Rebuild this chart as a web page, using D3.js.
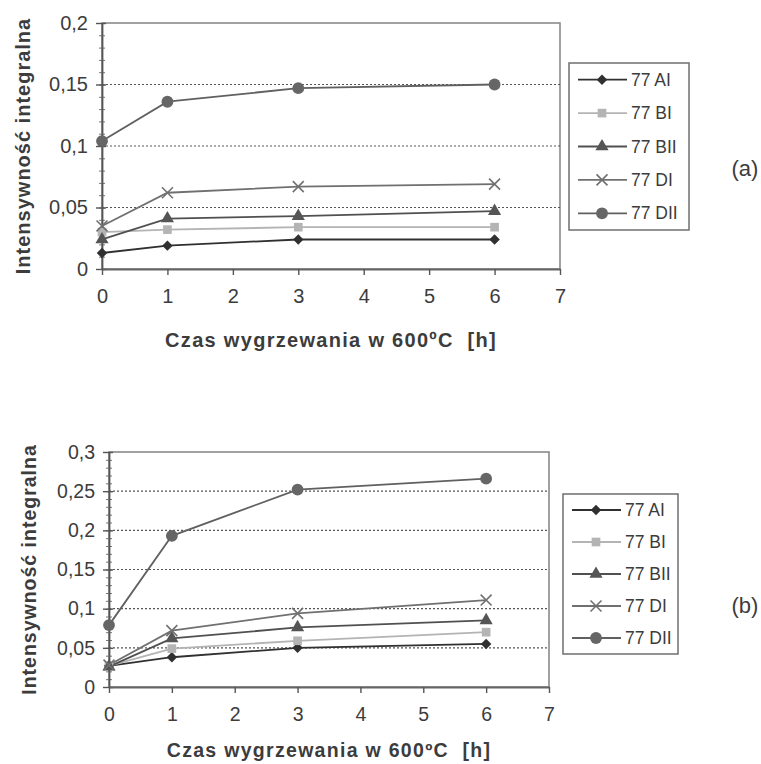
<!DOCTYPE html>
<html>
<head>
<meta charset="utf-8">
<script src="https://cdn.jsdelivr.net/npm/d3@7"></script>
<style>
  body { margin: 0; background: #fff; }
  svg { display: block; }
  text { font-family: "Liberation Sans", Arial, sans-serif; fill: #3c3c3c; }
</style>
</head>
<body>
<svg id="chart" width="761" height="764"></svg>
<script>
// czas wygrzewania [h]
const hours = [0, 1, 3, 6]
const seriesNames = ["77 AI", "77 BI", "77 BII", "77 DI", "77 DII"]
const xTicks = [0, 1, 2, 3, 4, 5, 6, 7]

// panel (a)
const aAI = [0.013, 0.019, 0.024, 0.024]
const aBI = [0.030, 0.032, 0.034, 0.034]
const aBII = [0.024, 0.041, 0.043, 0.047]
const aDI = [0.035, 0.062, 0.067, 0.069]
const aDII = [0.104, 0.136, 0.147, 0.150]
const aYTicks = [0, 0.05, 0.1, 0.15, 0.2]

// panel (b)
const bAI = [0.027, 0.038, 0.050, 0.055]
const bBI = [0.027, 0.049, 0.059, 0.070]
const bBII = [0.026, 0.062, 0.076, 0.085]
const bDI = [0.028, 0.072, 0.094, 0.111]
const bDII = [0.079, 0.193, 0.252, 0.266]
const bYTicks = [0, 0.05, 0.1, 0.15, 0.2, 0.25, 0.3]

const styles = [
  { line: "#303030", fill: "#303030", shape: d3.symbolDiamond2, size: 70 },
  { line: "#b4b4b4", fill: "#b4b4b4", shape: d3.symbolSquare, size: 75 },
  { line: "#505050", fill: "#555", shape: d3.symbolTriangle, size: 75 },
  { line: "#707070", fill: "none", shape: d3.symbolTimes, size: 80 },
  { line: "#606060", fill: "#666", shape: d3.symbolCircle, size: 110 },
]

const svg = d3.select("#chart")
const fmt = d => d === 0 ? "0" : String(d).replace(".", ",")

const marker = (g, i, x, y) => {
  const s = styles[i]
  g.append("path")
    .attr("d", d3.symbol().type(s.shape).size(s.size)())
    .attr("transform", `translate(${x},${y})`)
    .attr("fill", s.fill)
    .attr("stroke", s.shape === d3.symbolTimes ? s.line : "none")
    .attr("stroke-width", 1.6)
}

const drawPanel = (p) => {
  const x = d3.scaleLinear().domain([0, 7]).range([p.left, p.right])
  const y = d3.scaleLinear().domain([0, p.yMax]).range([p.bottom, p.top])
  const g = svg.append("g")

  // ramka
  g.append("rect")
    .attr("x", p.left).attr("y", p.top)
    .attr("width", p.right - p.left).attr("height", p.bottom - p.top)
    .attr("fill", "#fff").attr("stroke", "#8a8a8a").attr("stroke-width", 1.6)

  // siatka
  g.selectAll(".grid")
    .data(p.yTicks.filter(d => d > 0 && d < p.yMax))
    .join("line")
    .attr("x1", p.left).attr("x2", p.right)
    .attr("y1", d => y(d)).attr("y2", d => y(d))
    .attr("stroke", "#555").attr("stroke-width", 1.2)
    .attr("stroke-dasharray", "2,2")

  // os Y - male kreski
  const minor = d3.range(0, p.yMax + 0.0001, 0.01)
  g.append("g")
    .attr("transform", `translate(${p.left + 3},0)`)
    .call(d3.axisLeft(y).tickValues(minor).tickSize(6).tickFormat(""))
    .call(a => a.select(".domain").remove())
    .call(a => a.selectAll("line").attr("stroke", "#777"))

  const yAxis = g.append("g")
    .attr("transform", `translate(${p.left},0)`)
    .call(d3.axisLeft(y).tickValues(p.yTicks).tickSize(6).tickSizeOuter(0).tickPadding(8).tickFormat(fmt))
  yAxis.select(".domain").attr("stroke", "#555").attr("stroke-width", 1.8)
  yAxis.selectAll(".tick line").attr("x2", 4).attr("x1", -6).attr("stroke", "#555").attr("stroke-width", 1.4)
  yAxis.selectAll(".tick text")
    .attr("font-size", p.fs).attr("font-family", "Liberation Sans, Arial").attr("fill", "#3c3c3c")

  // os X
  const xAxis = g.append("g")
    .attr("transform", `translate(0,${p.bottom})`)
    .call(d3.axisBottom(x).tickValues(xTicks).tickSize(6).tickSizeOuter(0).tickPadding(p.xPad).tickFormat(d3.format("d")))
  xAxis.select(".domain").attr("stroke", "#666").attr("stroke-width", 1.8)
  xAxis.selectAll(".tick line").attr("stroke", "#555").attr("stroke-width", 1.4)
  xAxis.selectAll(".tick text")
    .attr("font-size", p.fs).attr("font-family", "Liberation Sans, Arial").attr("fill", "#3c3c3c")

  // serie
  const line = d3.line().x((d, i) => x(hours[i])).y(d => y(d))
  p.series.forEach((vals, i) => {
    g.append("path")
      .attr("d", line(vals))
      .attr("fill", "none")
      .attr("stroke", styles[i].line)
      .attr("stroke-width", 1.8)
  })
  p.series.forEach((vals, i) => {
    vals.forEach((v, j) => marker(g, i, x(hours[j]), y(v)))
  })

  // opisy osi
  g.append("text")
    .attr("x", (p.left + p.right) / 2).attr("y", p.titleY)
    .attr("text-anchor", "middle")
    .attr("font-size", p.fs).attr("font-weight", "bold")
    .attr("letter-spacing", 1.3)
    .style("white-space", "pre")
    .text("Czas wygrzewania w 600ºC  [h]")

  g.append("text")
    .attr("transform", `translate(${p.yLabelX},${(p.top + p.bottom) / 2}) rotate(-90)`)
    .attr("text-anchor", "middle")
    .attr("font-size", p.fs).attr("font-weight", "bold")
    .attr("letter-spacing", 1)
    .text("Intensywność integralna")

  // legenda
  const lg = g.append("g")
  lg.append("rect")
    .attr("x", p.legX).attr("y", p.legTop)
    .attr("width", p.legW).attr("height", p.legH)
    .attr("fill", "#fff").attr("stroke", "#777").attr("stroke-width", 1.6)
  const step = p.legH / seriesNames.length
  seriesNames.forEach((name, i) => {
    const ly = p.legTop + step * (i + 0.5)
    lg.append("line")
      .attr("x1", p.legX + 9).attr("x2", p.legX + 58)
      .attr("y1", ly).attr("y2", ly)
      .attr("stroke", styles[i].line).attr("stroke-width", 1.8)
    marker(lg, i, p.legX + 33, ly)
    lg.append("text")
      .attr("x", p.legX + 62).attr("y", ly + 6)
      .attr("font-size", p.legFs)
      .text(name)
  })

  svg.append("text")
    .attr("x", 745).attr("y", p.tagY)
    .attr("text-anchor", "middle")
    .attr("font-family", "Liberation Serif, Times New Roman, serif")
    .attr("font-size", 22)
    .text(p.tag)
}

drawPanel({
  left: 102, right: 560, top: 23, bottom: 269, yMax: 0.2, yTicks: aYTicks,
  series: [aAI, aBI, aBII, aDI, aDII], fs: 20, xPad: 14, titleY: 347, yLabelX: 30,
  legX: 569, legTop: 63, legW: 120, legH: 167, legFs: 17.5, tag: "(a)", tagY: 176
})

drawPanel({
  left: 109, right: 549, top: 452, bottom: 687, yMax: 0.3, yTicks: bYTicks,
  series: [bAI, bBI, bBII, bDI, bDII], fs: 19.5, xPad: 14, titleY: 757, yLabelX: 36,
  legX: 563, legTop: 494, legW: 115, legH: 160, legFs: 17.5, tag: "(b)", tagY: 613
})
</script>
</body>
</html>
